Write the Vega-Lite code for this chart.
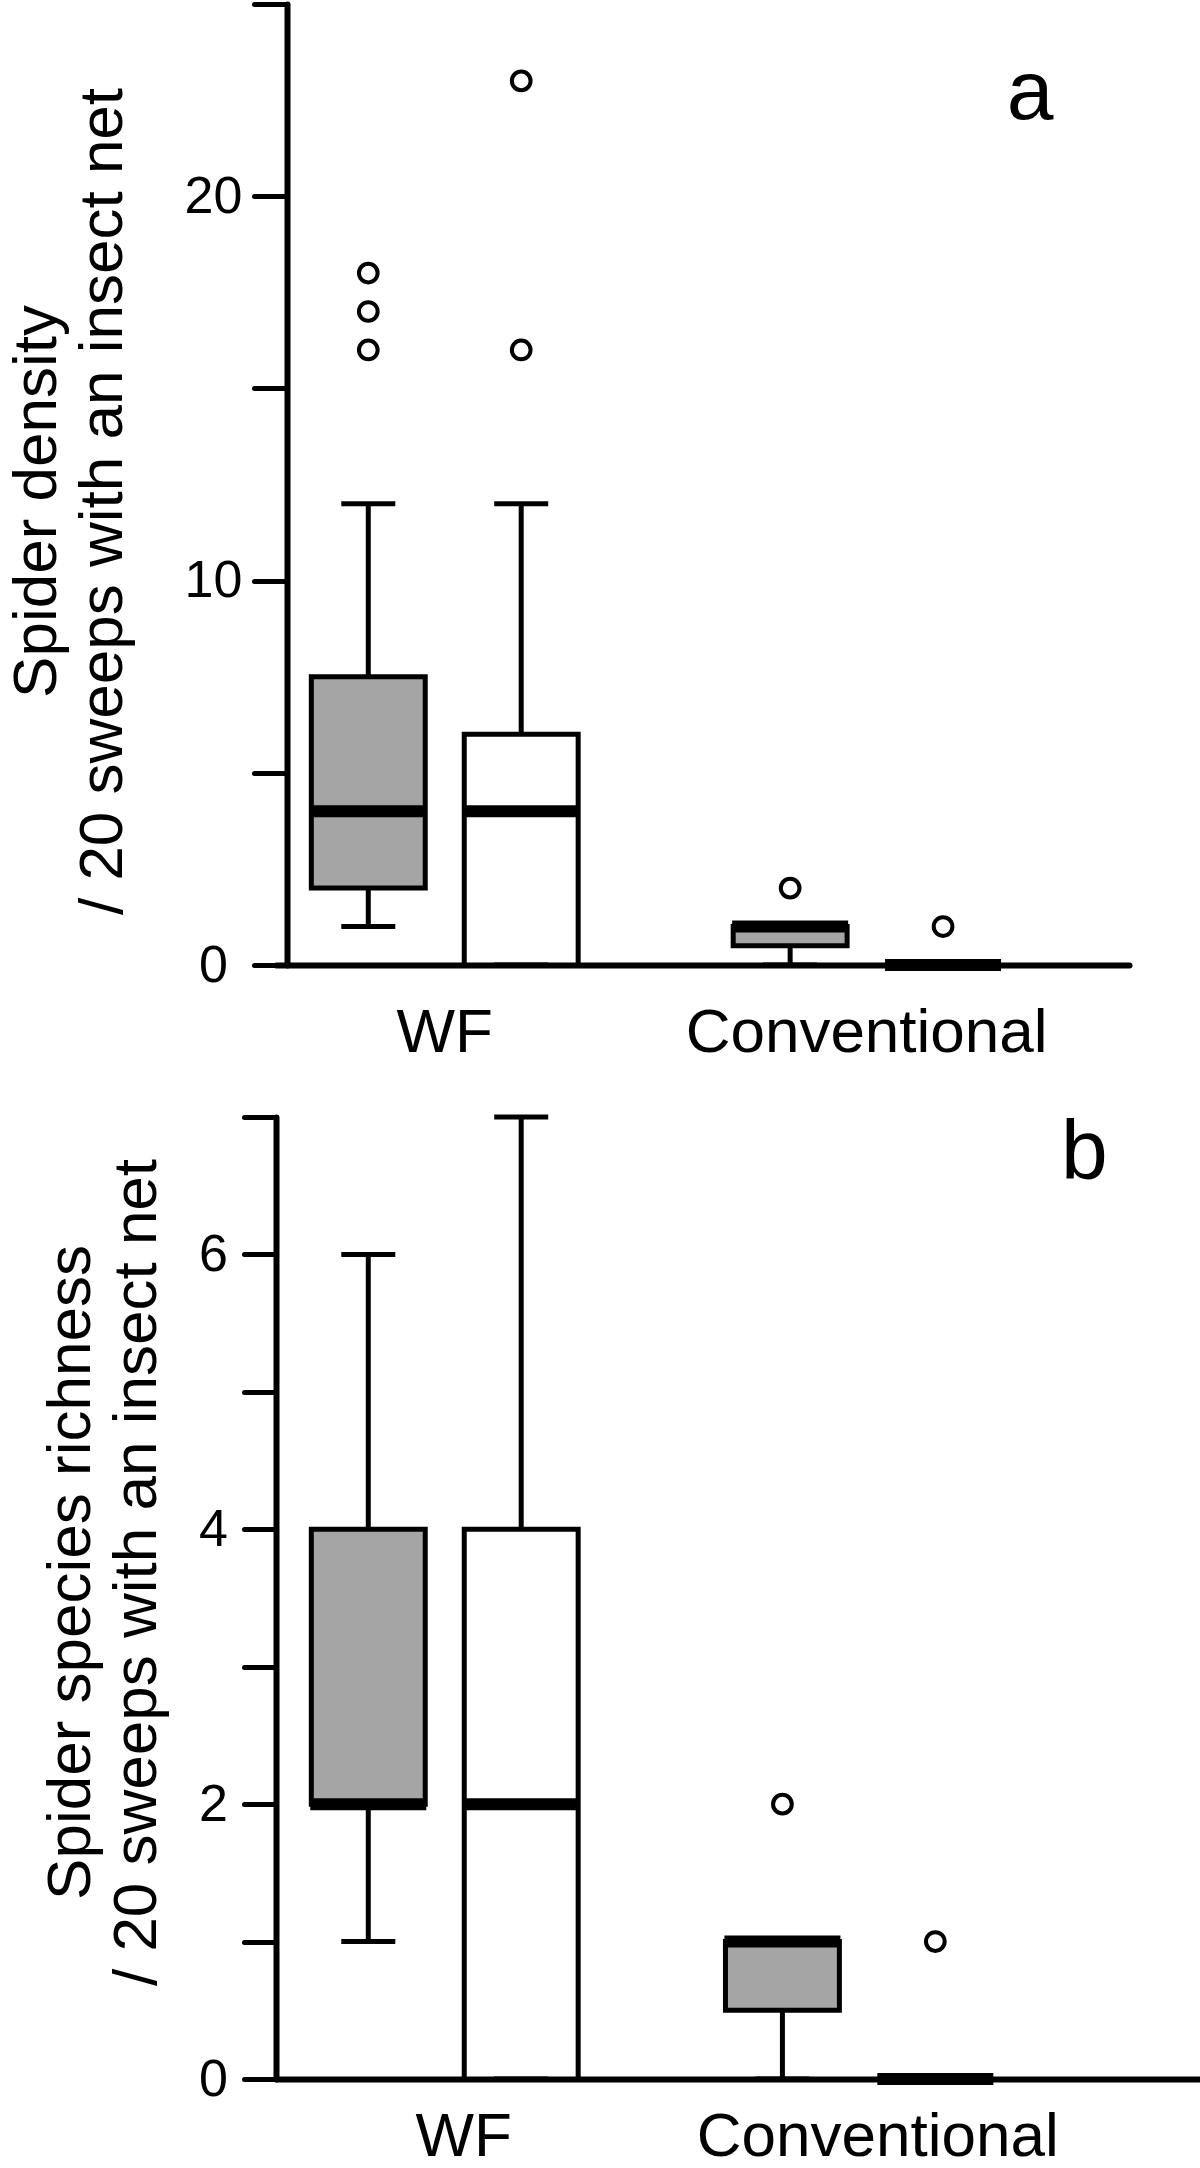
{
  "$schema": "https://vega.github.io/schema/vega-lite/v6.json",
  "padding": {"left": 4, "top": 1, "right": 0, "bottom": 0},
  "background": "white",
  "bounds": "flush",
  "spacing": 152,
  "config": {
    "view": {"stroke": null},
    "font": "Liberation Sans",
    "axis": {"domainColor": "black", "tickColor": "black", "labelColor": "black", "titleColor": "black", "grid": false, "labelFont": "Liberation Sans", "titleFont": "Liberation Sans", "titleFontWeight": "normal"}
  },
  "datasets": {
    "density_boxes": [
      {"group": "WF", "series": "shaded", "lower": 1, "q1": 2, "median": 4, "q3": 7.5, "upper": 12},
      {"group": "WF", "series": "open", "lower": 0, "q1": 0, "median": 4, "q3": 6, "upper": 12},
      {"group": "Conventional", "series": "shaded", "lower": 0, "q1": 0.5, "median": 1, "q3": 1, "upper": 1},
      {"group": "Conventional", "series": "open", "lower": 0, "q1": 0, "median": 0, "q3": 0, "upper": 0}
    ],
    "density_outliers": [
      {"group": "WF", "series": "shaded", "value": 16},
      {"group": "WF", "series": "shaded", "value": 17},
      {"group": "WF", "series": "shaded", "value": 18},
      {"group": "WF", "series": "open", "value": 16},
      {"group": "WF", "series": "open", "value": 23},
      {"group": "Conventional", "series": "shaded", "value": 2},
      {"group": "Conventional", "series": "open", "value": 1}
    ],
    "richness_boxes": [
      {"group": "WF", "series": "shaded", "lower": 1, "q1": 2, "median": 2, "q3": 4, "upper": 6},
      {"group": "WF", "series": "open", "lower": 0, "q1": 0, "median": 2, "q3": 4, "upper": 7},
      {"group": "Conventional", "series": "shaded", "lower": 0, "q1": 0.5, "median": 1, "q3": 1, "upper": 1},
      {"group": "Conventional", "series": "open", "lower": 0, "q1": 0, "median": 0, "q3": 0, "upper": 0}
    ],
    "richness_outliers": [
      {"group": "Conventional", "series": "shaded", "value": 2},
      {"group": "Conventional", "series": "open", "value": 1}
    ],
    "label_a": [{"panel": "a"}],
    "label_b": [{"panel": "b"}]
  },
  "vconcat": [
    {
      "width": 853,
      "height": 961,
      "encoding": {
        "x": {"field": "group", "type": "nominal", "sort": ["WF", "Conventional"], "scale": {"paddingInner": 0.2, "paddingOuter": 0.111, "align": 0},
          "axis": {"title": null, "labelAngle": 0, "ticks": false, "labelFontSize": 62, "labelPadding": 37, "labelLimit": 0, "domainWidth": 6, "domainCap": "round"}},
        "xOffset": {"field": "series", "type": "nominal", "sort": ["shaded", "open"], "scale": {"paddingInner": 0.255, "paddingOuter": 0.231}}
      },
      "layer": [
        {
          "data": {"name": "density_boxes"},
          "mark": {"type": "rule", "strokeWidth": 5, "color": "black"},
          "encoding": {
            "y": {"field": "lower", "type": "quantitative", "title": ["Spider density", "/ 20 sweeps with an insect net"], "scale": {"domain": [0, 25], "nice": false},
              "axis": {"values": [0, 5, 10, 15, 20, 25], "labelExpr": "datum.value % 10 === 0 ? datum.label : ''", "offset": -11, "tickSize": 33, "tickWidth": 5, "tickCap": "round", "domainWidth": 6, "domainCap": "round", "labelPadding": 41, "labelAlign": "center", "labelFontSize": 52,
                "titleFontSize": 62, "titleLineHeight": 66, "titleBaseline": "top", "titleAlign": "center", "titleAngle": -90, "titleX": -281, "titleY": 497}},
            "y2": {"field": "upper"}
          }
        },
        {
          "data": {"name": "density_boxes"},
          "mark": {"type": "bar", "stroke": "black", "strokeWidth": 5},
          "encoding": {
            "y": {"field": "q1", "type": "quantitative", "title": ["Spider density", "/ 20 sweeps with an insect net"]},
            "y2": {"field": "q3"},
            "fill": {"field": "series", "type": "nominal", "scale": {"domain": ["shaded", "open"], "range": ["#a5a5a5", "#ffffff"]}, "legend": null}
          }
        },
        {
          "data": {"name": "density_boxes"},
          "mark": {"type": "tick", "size": 54, "thickness": 5, "color": "black", "opacity": 1},
          "encoding": {"y": {"field": "upper", "type": "quantitative", "title": ["Spider density", "/ 20 sweeps with an insect net"]}}
        },
        {
          "data": {"name": "density_boxes"},
          "mark": {"type": "tick", "size": 54, "thickness": 5, "color": "black", "opacity": 1},
          "encoding": {"y": {"field": "lower", "type": "quantitative", "title": ["Spider density", "/ 20 sweeps with an insect net"]}}
        },
        {
          "data": {"name": "density_boxes"},
          "mark": {"type": "tick", "size": 116, "thickness": 12, "color": "black", "opacity": 1},
          "encoding": {"y": {"field": "median", "type": "quantitative", "title": ["Spider density", "/ 20 sweeps with an insect net"]}}
        },
        {
          "data": {"name": "density_outliers"},
          "mark": {"type": "point", "shape": "circle", "filled": false, "stroke": "black", "strokeWidth": 4, "size": 350, "opacity": 1},
          "encoding": {"y": {"field": "value", "type": "quantitative", "title": ["Spider density", "/ 20 sweeps with an insect net"]}}
        },
        {
          "data": {"name": "label_a"},
          "mark": {"type": "text", "fontSize": 84, "font": "Liberation Sans", "color": "black", "align": "center", "baseline": "alphabetic", "dx": 87},
          "encoding": {
            "x": {"datum": "Conventional"},
            "xOffset": {"datum": "open"},
            "y": {"datum": 22, "type": "quantitative"},
            "text": {"field": "panel"}
          }
        }
      ]
    },
    {
      "width": 926,
      "height": 962,
      "encoding": {
        "x": {"field": "group", "type": "nominal", "sort": ["WF", "Conventional"], "scale": {"paddingInner": 0.2, "paddingOuter": 0.218, "align": 0},
          "axis": {"title": null, "labelAngle": 0, "ticks": false, "labelFontSize": 62, "labelPadding": 27, "labelOffset": 22, "labelLimit": 0, "domainWidth": 6, "domainCap": "round"}},
        "xOffset": {"field": "series", "type": "nominal", "sort": ["shaded", "open"], "scale": {"paddingInner": 0.255, "paddingOuter": 0.21}}
      },
      "layer": [
        {
          "data": {"name": "richness_boxes"},
          "mark": {"type": "rule", "strokeWidth": 5, "color": "black"},
          "encoding": {
            "y": {"field": "lower", "type": "quantitative", "title": ["Spider species richness", "/ 20 sweeps with an insect net"], "scale": {"domain": [0, 7], "nice": false},
              "axis": {"values": [0, 1, 2, 3, 4, 5, 6, 7], "format": "d", "labelExpr": "datum.value % 2 === 0 ? datum.label : ''", "tickSize": 32, "tickWidth": 5, "tickCap": "round", "domainWidth": 6, "domainCap": "round", "labelPadding": 31, "labelAlign": "center", "labelFontSize": 52,
                "titleFontSize": 62, "titleLineHeight": 66, "titleBaseline": "top", "titleAlign": "center", "titleAngle": -90, "titleX": -236, "titleY": 455}},
            "y2": {"field": "upper"}
          }
        },
        {
          "data": {"name": "richness_boxes"},
          "mark": {"type": "bar", "stroke": "black", "strokeWidth": 5},
          "encoding": {
            "y": {"field": "q1", "type": "quantitative", "title": ["Spider species richness", "/ 20 sweeps with an insect net"]},
            "y2": {"field": "q3"},
            "fill": {"field": "series", "type": "nominal", "scale": {"domain": ["shaded", "open"], "range": ["#a5a5a5", "#ffffff"]}, "legend": null}
          }
        },
        {
          "data": {"name": "richness_boxes"},
          "mark": {"type": "tick", "size": 54, "thickness": 5, "color": "black", "opacity": 1},
          "encoding": {"y": {"field": "upper", "type": "quantitative", "title": ["Spider species richness", "/ 20 sweeps with an insect net"]}}
        },
        {
          "data": {"name": "richness_boxes"},
          "mark": {"type": "tick", "size": 54, "thickness": 5, "color": "black", "opacity": 1},
          "encoding": {"y": {"field": "lower", "type": "quantitative", "title": ["Spider species richness", "/ 20 sweeps with an insect net"]}}
        },
        {
          "data": {"name": "richness_boxes"},
          "mark": {"type": "tick", "size": 116, "thickness": 12, "color": "black", "opacity": 1},
          "encoding": {"y": {"field": "median", "type": "quantitative", "title": ["Spider species richness", "/ 20 sweeps with an insect net"]}}
        },
        {
          "data": {"name": "richness_outliers"},
          "mark": {"type": "point", "shape": "circle", "filled": false, "stroke": "black", "strokeWidth": 4, "size": 350, "opacity": 1},
          "encoding": {"y": {"field": "value", "type": "quantitative", "title": ["Spider species richness", "/ 20 sweeps with an insect net"]}}
        },
        {
          "data": {"name": "label_b"},
          "mark": {"type": "text", "fontSize": 84, "font": "Liberation Sans", "color": "black", "align": "center", "baseline": "alphabetic", "dx": 149},
          "encoding": {
            "x": {"datum": "Conventional"},
            "xOffset": {"datum": "open"},
            "y": {"datum": 6.55, "type": "quantitative"},
            "text": {"field": "panel"}
          }
        }
      ]
    }
  ]
}
